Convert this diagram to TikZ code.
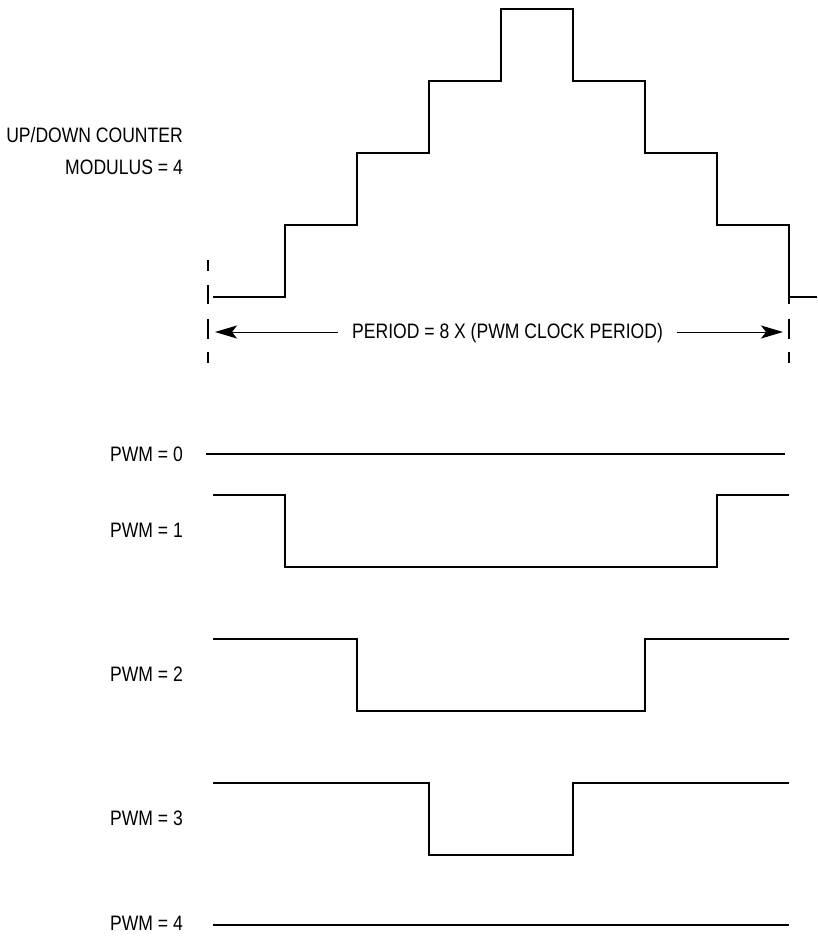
\documentclass[tikz,border=0pt]{standalone}
\usepackage{fontspec}
\setmainfont{Liberation Sans}[FakeStretch=0.84]
\usetikzlibrary{arrows.meta}
\tikzset{
  wave/.style={line width=1.9pt, line join=miter, line cap=butt},
  lbl/.style={anchor=east, inner sep=0pt, font=\fontsize{20.9pt}{22pt}\selectfont},
  guide/.style={line width=1.1pt},
  dim/.style={line width=1pt, -{Stealth[length=22pt,width=13pt,inset=5pt]}}
}
\begin{document}
\begin{tikzpicture}[x=1pt,y=-1pt]
\useasboundingbox (0,0) rectangle (817,937);
% labels
\node[lbl] (ud) at (183,135) {UP/DOWN COUNTER};
\node[lbl] (mod) at (183,167) {MODULUS = 4};
\node[lbl] (p0) at (183,454) {PWM = 0};
\node[lbl] (p1) at (183,530) {PWM = 1};
\node[lbl] (p2) at (183,674) {PWM = 2};
\node[lbl] (p3) at (183,818) {PWM = 3};
\node[lbl] (p4) at (183,923) {PWM = 4};
% staircase counter
\draw[wave] (213,297) -- (285,297) -- (285,225) -- (357,225) -- (357,153) -- (429,153) -- (429,81)
  -- (501,81) -- (501,9) -- (573,9) -- (573,81) -- (645,81) -- (645,153) -- (717,153) -- (717,225)
  -- (789,225) -- (789,297) -- (817,297);
% dashed guides
\foreach \xx in {208,789} {
  \draw[guide] (\xx,260) -- (\xx,271);
  \draw[guide] (\xx,285) -- (\xx,304);
  \draw[guide] (\xx,319) -- (\xx,339);
  \draw[guide] (\xx,352) -- (\xx,363);
}
% period dimension
\coordinate (la) at (215,332);
\coordinate (ra) at (783,332);
\node[inner sep=0pt, anchor=west, font=\fontsize{20.9pt}{22pt}\selectfont] (per) at (352,333) {PERIOD = 8 X (PWM CLOCK PERIOD)};
\draw[dim] ([xshift=-14pt]per.west |- la) -- (la);
\draw[dim] ([xshift=14pt]per.east |- ra) -- (ra);
% PWM waveforms
\draw[wave] (206,454) -- (785,454);
\draw[wave] (213,495) -- (285,495) -- (285,567) -- (717,567) -- (717,495) -- (789,495);
\draw[wave] (213,639) -- (357,639) -- (357,711) -- (645,711) -- (645,639) -- (789,639);
\draw[wave] (213,783) -- (429,783) -- (429,855) -- (573,855) -- (573,783) -- (789,783);
\draw[wave] (213,925) -- (789,925);
\end{tikzpicture}
\end{document}
